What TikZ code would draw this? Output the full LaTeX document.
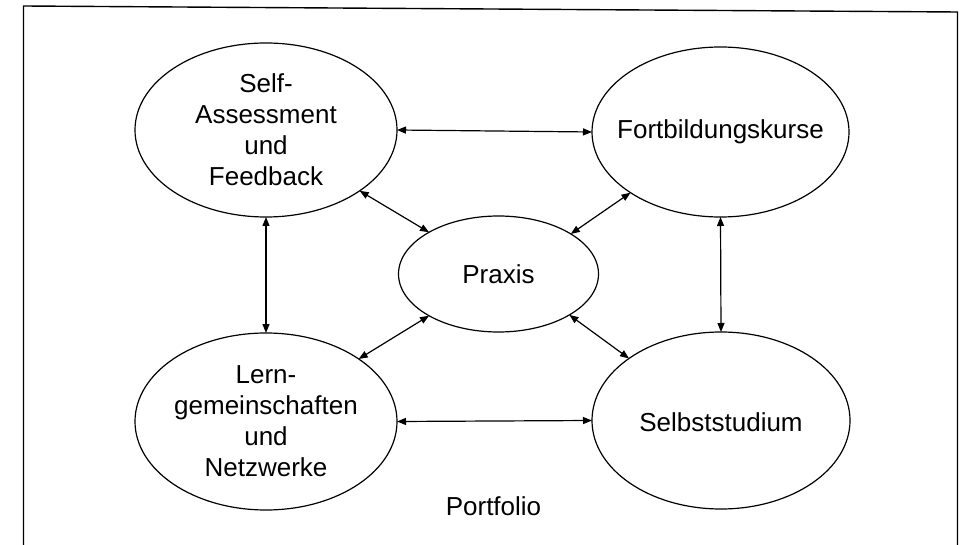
\documentclass[tikz,border=0pt]{standalone}
\usepackage{fontspec}
\setmainfont{Liberation Sans}
\usetikzlibrary{arrows.meta,shapes.geometric}
\tikzset{
  ell/.style={draw, ellipse, line width=1.2pt, inner sep=0pt, outer sep=0pt},
  txt/.style={align=center, inner sep=0pt, font=\fontsize{26}{31}\selectfont},
  link/.style={line width=1.2pt, {Triangle[length=9pt,width=7pt]}-{Triangle[length=9pt,width=7pt]}},
  frame/.style={line width=1.4pt}
}
\begin{document}
\begin{tikzpicture}[x=1pt,y=-1pt]
\useasboundingbox (0,0) rectangle (961,545);
% outer frame (open at the bottom)
\coordinate (fbl) at (23.5,545);
\coordinate (ftl) at (23.5,6);
\coordinate (ftr) at (957.5,12);
\coordinate (fbr) at (957.5,545);
\draw[frame] (fbl) -- (ftl) -- (ftr) -- (fbr);
% ellipses
\node[ell, minimum width=262pt, minimum height=174pt] (S) at (266,130) {};
\node[ell, minimum width=257pt, minimum height=170pt] (F) at (720.5,132) {};
\node[ell, minimum width=200pt, minimum height=116pt] (P) at (498.5,274) {};
\node[ell, minimum width=262pt, minimum height=177pt] (L) at (266,421.5) {};
\node[ell, minimum width=258pt, minimum height=177pt] (B) at (721,420.5) {};
% texts
\node[txt] (St) at (S) {Self-\\Assessment\\und\\Feedback};
\node[txt] (Ft) at (F) {Fortbildungskurse};
\node[txt] (Pt) at (P) {Praxis};
\node[txt] (Lt) at (L) {Lern-\\gemeinschaften\\und\\Netzwerke};
\node[txt] (Bt) at ([yshift=-2pt]B) {Selbststudium};
\node[txt] (Port) at (493.5,506) {Portfolio};
% connectors
\draw[link] (S.east) -- (F.west);
\draw[link] (L.east) -- (B.west);
\draw[link] (S.south) -- (L.north);
\draw[link] (F.south) -- (B.north);
\draw[link] (S.-33.4) -- (P.149.4);
\draw[link] (F.-146.5) -- (P.29.9);
\draw[link] (L.34) -- (P.-149.4);
\draw[link] (B.-214.5) -- (P.-30);
\end{tikzpicture}
\end{document}
